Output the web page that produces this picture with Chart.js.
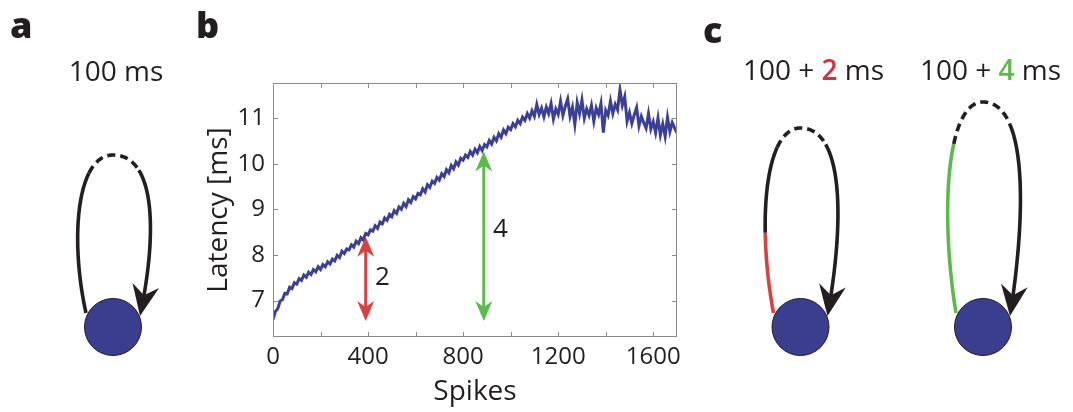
<!DOCTYPE html>
<html>
<head>
<meta charset="utf-8">
<script src="https://cdn.jsdelivr.net/npm/chart.js@4"></script>
<style>
  body { margin: 0; background: #fff; }
  canvas { display: block; }
</style>
</head>
<body>
<canvas id="grafico" width="1073" height="412"></canvas>
<script>
// latency [ms], one value every 10 spikes (0..1700)
const spikeStep = 10;
const latency = [
  6.58, 6.76, 6.82, 6.99, 7.02, 7.16, 7.15, 7.29, 7.26, 7.39,
  7.36, 7.48, 7.44, 7.56, 7.51, 7.62, 7.57, 7.68, 7.63, 7.74,
  7.68, 7.79, 7.74, 7.85, 7.80, 7.91, 7.87, 7.99, 7.94, 8.08,
  8.03, 8.13, 8.11, 8.22, 8.17, 8.30, 8.25, 8.38, 8.33, 8.47,
  8.44, 8.55, 8.52, 8.64, 8.58, 8.72, 8.68, 8.81, 8.76, 8.89,
  8.84, 8.97, 8.91, 9.05, 9.00, 9.13, 9.06, 9.21, 9.15, 9.28,
  9.23, 9.35, 9.32, 9.45, 9.38, 9.54, 9.48, 9.62, 9.57, 9.70,
  9.64, 9.78, 9.72, 9.87, 9.80, 9.96, 9.89, 10.04, 9.97, 10.12,
  10.08, 10.19, 10.14, 10.27, 10.19, 10.32, 10.24, 10.38, 10.29, 10.42,
  10.37, 10.51, 10.43, 10.58, 10.50, 10.66, 10.58, 10.74, 10.66, 10.80,
  10.75, 10.88, 10.81, 10.95, 10.88, 11.02, 10.95, 11.10, 11.00, 11.16,
  11.04, 11.30, 11.08, 11.22, 11.03, 11.24, 11.10, 11.32, 10.98, 11.20,
  11.08, 11.37, 11.06, 11.26, 11.42, 11.04, 11.24, 10.86, 11.34, 11.10,
  11.40, 11.00, 11.20, 11.06, 11.28, 10.93, 11.22, 11.08, 11.32, 10.68,
  11.17, 11.06, 11.37, 11.10, 11.30, 11.18, 11.62, 11.28, 11.47, 10.93,
  11.12, 10.88, 11.07, 11.23, 10.83, 11.04, 10.90, 10.78, 11.10, 10.76,
  10.92, 10.68, 11.00, 10.63, 10.87, 10.60, 11.02, 10.70, 10.90, 10.78,
  10.68
];

const xTicks = [0, 200, 400, 600, 800, 1000, 1200, 1400, 1600];
const xTickLabels = [0, 400, 800, 1200, 1600];
const yTicks = [7, 8, 9, 10, 11];

// double arrows in panel b
const arrowSpikes = [390, 887];
const arrowLow = [6.55, 6.55];
const arrowHigh = [8.4, 10.27];
const arrowColors = ['#d64141', '#5bbb4a'];
const arrowNames = ['2', '4'];
const arrowNameSpikes = [460, 957];
const arrowNameLatency = [7.5, 8.55];

const inchiostro = '#231f20';
const blu = '#3b3f96';

// schemi a / c : anelli con cerchio
const anelli = [
  { cx: 113, cy: 327, h: 172, colore: null, finoColore: 313, finoPieno: 173, finoTratteggio: 171 },
  { cx: 800.5, cy: 327, h: 199, colore: '#d64141', finoColore: 232, finoPieno: 147, finoTratteggio: 145 },
  { cx: 983, cy: 327, h: 225, colore: '#5bbb4a', finoColore: 143, finoPieno: 143, finoTratteggio: 125 }
];

function bez(P, t) {
  const u = 1 - t;
  const a = u * u * u, b = 3 * u * u * t, c = 3 * u * t * t, d = t * t * t;
  return [a * P[0][0] + b * P[1][0] + c * P[2][0] + d * P[3][0],
          a * P[0][1] + b * P[1][1] + c * P[2][1] + d * P[3][1]];
}

function campionaAnello(cx, cy, h) {
  const L = [[cx - 27, cy - 14], [cx - 43, cy - 0.5 * h], [cx - 37, cy - h], [cx, cy - h]];
  const R = [[cx, cy - h], [cx + 42, cy - h], [cx + 45, cy - 0.56 * h], [cx + 27, cy - 11]];
  const pts = [];
  for (let i = 0; i <= 100; i++) pts.push(bez(L, i / 100));
  for (let i = 1; i <= 100; i++) pts.push(bez(R, i / 100));
  return pts;
}

function tratto(ctx, pts, a, b, colore, dash) {
  if (b <= a) return;
  ctx.save();
  ctx.strokeStyle = colore;
  ctx.lineWidth = 3.6;
  ctx.lineCap = 'butt';
  ctx.lineJoin = 'round';
  ctx.setLineDash(dash || []);
  ctx.beginPath();
  ctx.moveTo(pts[a][0], pts[a][1]);
  for (let i = a + 1; i <= b; i++) ctx.lineTo(pts[i][0], pts[i][1]);
  ctx.stroke();
  ctx.restore();
}

function punta(ctx, tx, ty, dx, dy, lung, semi, tacca, colore) {
  const nx = -dy, ny = dx;
  ctx.save();
  ctx.fillStyle = colore;
  ctx.beginPath();
  ctx.moveTo(tx, ty);
  ctx.lineTo(tx - lung * dx + semi * nx, ty - lung * dy + semi * ny);
  ctx.lineTo(tx - tacca * dx, ty - tacca * dy);
  ctx.lineTo(tx - lung * dx - semi * nx, ty - lung * dy - semi * ny);
  ctx.closePath();
  ctx.fill();
  ctx.restore();
}

function disegnaAnello(ctx, an) {
  const pts = campionaAnello(an.cx, an.cy, an.h);
  let iColore = 0, iPieno = 0, iTratt = 101;
  for (let i = 0; i <= 100; i++) { if (pts[i][1] > an.finoColore) iColore = i; }
  for (let i = 0; i <= 100; i++) { if (pts[i][1] > an.finoPieno) iPieno = i; }
  for (let i = 101; i < pts.length; i++) { if (pts[i][1] < an.finoTratteggio) iTratt = i; }
  const tip = pts[pts.length - 1];
  let iFine = pts.length - 1;
  while (Math.hypot(pts[iFine][0] - tip[0], pts[iFine][1] - tip[1]) < 18) iFine--;
  if (an.colore) tratto(ctx, pts, 0, iColore, an.colore);
  tratto(ctx, pts, an.colore ? iColore : 0, iPieno, inchiostro);
  tratto(ctx, pts, iPieno, iTratt, inchiostro, [8, 5]);
  tratto(ctx, pts, iTratt, iFine + 1, inchiostro);
  const back = pts[pts.length - 10];
  let dx = tip[0] - back[0], dy = tip[1] - back[1];
  const n = Math.hypot(dx, dy); dx /= n; dy /= n;
  punta(ctx, tip[0], tip[1], dx, dy, 31, 13.5, 21, inchiostro);
  ctx.save();
  ctx.beginPath();
  ctx.arc(an.cx, an.cy, 28.5, 0, Math.PI * 2);
  ctx.fillStyle = '#3b3d8e';
  ctx.fill();
  ctx.lineWidth = 1;
  ctx.strokeStyle = '#1d1d33';
  ctx.stroke();
  ctx.restore();
}

const decorazioni = {
  id: 'decorazioni',
  afterDatasetsDraw(chart) {
    const ctx = chart.ctx;
    const area = chart.chartArea;
    const sx = chart.scales.x, sy = chart.scales.y;
    // box and inward ticks
    ctx.save();
    ctx.strokeStyle = '#8a8a8a';
    ctx.lineWidth = 1;
    ctx.strokeRect(Math.round(area.left) + 0.5, Math.round(area.top) + 0.5,
                   Math.round(area.right - area.left) - 1, Math.round(area.bottom - area.top) - 1);
    ctx.beginPath();
    xTicks.forEach(v => {
      const px = Math.round(sx.getPixelForValue(v)) + 0.5;
      ctx.moveTo(px, area.bottom); ctx.lineTo(px, area.bottom - 5);
      ctx.moveTo(px, area.top); ctx.lineTo(px, area.top + 5);
    });
    yTicks.forEach(v => {
      const py = Math.round(sy.getPixelForValue(v)) + 0.5;
      ctx.moveTo(area.left, py); ctx.lineTo(area.left + 5, py);
      ctx.moveTo(area.right, py); ctx.lineTo(area.right - 5, py);
    });
    ctx.stroke();
    ctx.restore();

    // double arrows
    arrowSpikes.forEach((s, i) => {
      const px = sx.getPixelForValue(s);
      const yb = sy.getPixelForValue(arrowLow[i]);
      const yt = sy.getPixelForValue(arrowHigh[i]);
      ctx.save();
      ctx.strokeStyle = arrowColors[i];
      ctx.lineWidth = 3;
      ctx.beginPath();
      ctx.moveTo(px, yb - 12);
      ctx.lineTo(px, yt + 12);
      ctx.stroke();
      ctx.restore();
      punta(ctx, px, yt, 0, -1, 20, 8.5, 14, arrowColors[i]);
      punta(ctx, px, yb, 0, 1, 20, 8.5, 14, arrowColors[i]);
      ctx.save();
      ctx.fillStyle = inchiostro;
      ctx.font = "26px 'Open Sans'";
      ctx.textAlign = 'center';
      ctx.textBaseline = 'middle';
      ctx.fillText(arrowNames[i], sx.getPixelForValue(arrowNameSpikes[i]), sy.getPixelForValue(arrowNameLatency[i]));
      ctx.restore();
    });
  },
  afterDraw(chart) {
    const ctx = chart.ctx;
    ctx.save();
    ctx.fillStyle = inchiostro;
    ctx.textBaseline = 'alphabetic';
    ctx.font = "800 36px 'Open Sans'";
    ctx.fillText('a', 10, 38);
    ctx.fillText('b', 196, 38);
    ctx.fillText('c', 703, 43);

    ctx.font = "28px 'Open Sans'";
    ctx.textAlign = 'center';
    ctx.fillText('100 ms', 116, 81);
    ctx.textAlign = 'left';
    [[743, '2', '#d8303f'], [920, '4', '#5bbb4a']].forEach(([x0, num, col]) => {
      let x = x0;
      ctx.font = "28px 'Open Sans'";
      ctx.fillStyle = inchiostro;
      ctx.fillText('100 + ', x, 80);
      x += ctx.measureText('100 + ').width;
      ctx.font = "600 28px 'Open Sans'";
      ctx.fillStyle = col;
      ctx.fillText(num, x, 80);
      x += ctx.measureText(num).width;
      ctx.font = "28px 'Open Sans'";
      ctx.fillStyle = inchiostro;
      ctx.fillText(' ms', x, 80);
    });
    ctx.restore();

    anelli.forEach(an => disegnaAnello(ctx, an));
  }
};

Chart.defaults.font.family = "'Open Sans'";
Chart.defaults.color = inchiostro;

const canvas = document.getElementById('grafico').getContext('2d');

const grafico = new Chart(canvas, {
  type: 'line',
  data: {
    datasets: [{
      label: 'Latency',
      data: latency.map((v, i) => ({ x: i * spikeStep, y: v })),
      borderColor: blu,
      borderWidth: 3,
      pointRadius: 0,
      tension: 0,
      fill: false
    }]
  },
  options: {
    responsive: false,
    animation: false,
    events: [],
    layout: { padding: { left: 190, right: 396, top: 83, bottom: 0 } },
    plugins: { legend: { display: false }, tooltip: { enabled: false } },
    scales: {
      x: {
        type: 'linear',
        min: 0,
        max: 1700,
        afterBuildTicks: s => { s.ticks = xTicks.map(v => ({ value: v })); },
        afterFit: s => { s.height = 75; },
        grid: { display: false, drawTicks: false },
        border: { display: false },
        ticks: {
          autoSkip: false,
          maxRotation: 0,
          padding: 6,
          font: { size: 24 },
          color: inchiostro,
          callback: v => xTickLabels.includes(v) ? String(v) : ''
        },
        title: { display: true, text: 'Spikes', font: { size: 28 }, color: inchiostro, padding: { top: 0, bottom: 3 } }
      },
      y: {
        min: 6.2,
        max: 11.77,
        afterBuildTicks: s => { s.ticks = yTicks.map(v => ({ value: v })); },
        afterFit: s => { s.width = 83; },
        grid: { display: false, drawTicks: false },
        border: { display: false },
        ticks: { padding: 8, font: { size: 24 }, color: inchiostro },
        title: { display: true, text: 'Latency [ms]', font: { size: 28 }, color: inchiostro, padding: { top: 12, bottom: 0 } }
      }
    }
  },
  plugins: [decorazioni]
});
</script>
</body>
</html>
